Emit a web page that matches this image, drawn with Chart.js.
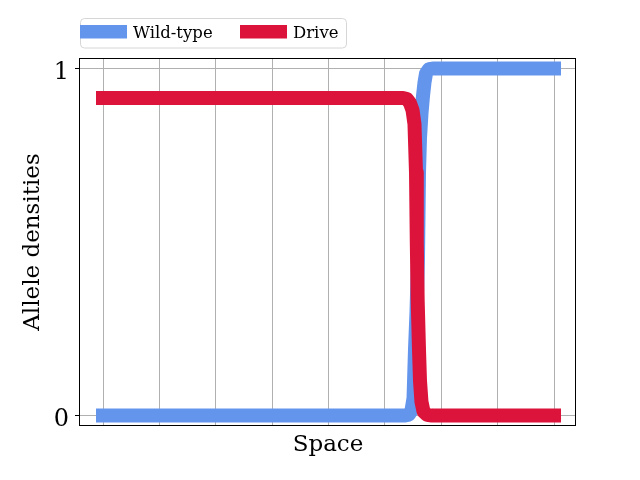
<!DOCTYPE html>
<html>
<head>
<meta charset="utf-8">
<script src="https://cdn.jsdelivr.net/npm/chart.js@4"></script>
<style>
  html, body { margin: 0; padding: 0; background: #fff; }
  #wrap { width: 640px; height: 480px; }
</style>
</head>
<body>
<div id="wrap"><canvas id="c" width="640" height="480"></canvas></div>
<script>
// ---- data ----
const wildX = [0, 53.39, 54.28, 54.72, 55.08, 55.34, 55.61, 55.87, 56.05, 56.23, 56.49, 56.76, 57.03, 57.29, 57.82, 58.71, 80];
const wildY = [0, 0, 0.003, 0.015, 0.05, 0.19, 0.3, 0.45, 0.7, 0.8, 0.87, 0.92, 0.96, 0.985, 0.998, 1, 1];
const driveX = [0, 53.21, 53.92, 54.45, 54.90, 55.25, 55.52, 55.66, 55.82, 56.05, 56.23, 56.49, 56.85, 57.47, 58.36, 80];
const driveY = [0.915, 0.915, 0.912, 0.90, 0.88, 0.84, 0.7, 0.5, 0.33, 0.19, 0.1, 0.04, 0.012, 0.002, 0, 0];
const xTicks = [0, 10, 20, 30, 40, 50, 60, 70, 80];
const yTicks = [0, 1];
const yTickLabels = ['0', '1'];
const seriesNames = ['Wild-type', 'Drive'];
const seriesColors = ['#6495ED', '#DC143C'];

const SERIF = '"DejaVu Serif", "Liberation Serif", serif';

function pts(xs, ys) { return xs.map((x, i) => ({ x: x, y: ys[i] })); }

const framePlugin = {
  id: 'frame',
  afterDraw(chart) {
    const { ctx, chartArea: a } = chart;
    ctx.save();
    ctx.strokeStyle = '#000';
    ctx.lineWidth = 1;
    ctx.strokeRect(Math.round(a.left) - 0.5, Math.round(a.top) + 0.5,
                   Math.round(a.right - a.left), Math.round(a.bottom - a.top) - 1);
    ctx.restore();
  }
};

const legendPlugin = {
  id: 'mplLegend',
  afterDraw(chart) {
    const ctx = chart.ctx;
    const a = chart.chartArea;
    const x0 = a.left + 0.5, y0 = 18.5, w = 266, h = 29.5, r = 4;
    ctx.save();
    ctx.beginPath();
    ctx.moveTo(x0 + r, y0);
    ctx.lineTo(x0 + w - r, y0);
    ctx.arcTo(x0 + w, y0, x0 + w, y0 + r, r);
    ctx.lineTo(x0 + w, y0 + h - r);
    ctx.arcTo(x0 + w, y0 + h, x0 + w - r, y0 + h, r);
    ctx.lineTo(x0 + r, y0 + h);
    ctx.arcTo(x0, y0 + h, x0, y0 + h - r, r);
    ctx.lineTo(x0, y0 + r);
    ctx.arcTo(x0, y0, x0 + r, y0, r);
    ctx.closePath();
    ctx.fillStyle = 'rgba(255,255,255,0.8)';
    ctx.fill();
    ctx.strokeStyle = '#d6d6d6';
    ctx.lineWidth = 1;
    ctx.stroke();
    ctx.font = '16.5px ' + SERIF;
    ctx.textBaseline = 'alphabetic';
    const items = chart.data.datasets;
    const starts = [a.left, a.left + 160];
    items.forEach((ds, i) => {
      const sx = starts[i];
      ctx.fillStyle = ds.borderColor;
      ctx.fillRect(sx, 25, 47, 13.5);
      ctx.fillStyle = '#000';
      ctx.fillText(ds.label, sx + 53, 37.7);
    });
    ctx.restore();
  }
};

new Chart(document.getElementById('c'), {
  type: 'line',
  data: {
    datasets: [
      {
        label: seriesNames[0],
        data: pts(wildX, wildY),
        borderColor: seriesColors[0],
        backgroundColor: seriesColors[0],
        borderWidth: 14,
        borderCapStyle: 'square',
        borderJoinStyle: 'round',
        pointRadius: 0,
        tension: 0,
        fill: false,
        order: 1
      },
      {
        label: seriesNames[1],
        data: pts(driveX, driveY),
        borderColor: seriesColors[1],
        backgroundColor: seriesColors[1],
        borderWidth: 14,
        borderCapStyle: 'square',
        borderJoinStyle: 'round',
        pointRadius: 0,
        tension: 0,
        fill: false,
        order: 0
      }
    ]
  },
  options: {
    responsive: false,
    animation: false,
    devicePixelRatio: 1,
    layout: { padding: { top: 58, right: 64, left: 0, bottom: 0 } },
    plugins: { legend: { display: false }, tooltip: { enabled: false } },
    scales: {
      x: {
        type: 'linear',
        min: -4.08,
        max: 83.9,
        afterBuildTicks(axis) { axis.ticks = xTicks.map(v => ({ value: v })); },
        afterFit(axis) { axis.height = 54; },
        ticks: { display: false },
        grid: { color: '#b0b0b0', lineWidth: 1, drawTicks: false },
        border: { display: false },
        title: { display: true, text: 'Space', color: '#000', font: { family: SERIF, size: 23 }, padding: { top: 0, bottom: 21.5 } }
      },
      y: {
        type: 'linear',
        min: -0.03,
        max: 1.03,
        afterBuildTicks(axis) { axis.ticks = yTicks.map(v => ({ value: v })); },
        afterFit(axis) { axis.width = 80; },
        ticks: {
          color: '#000',
          font: { family: SERIF, size: 24 },
          padding: 6,
          labelOffset: 4,
          callback(v) { const i = yTicks.indexOf(v); return i >= 0 ? yTickLabels[i] : ''; }
        },
        grid: { color: '#b0b0b0', lineWidth: 1, tickColor: '#000', tickLength: 5, drawTicks: true },
        border: { display: false },
        title: { display: true, text: 'Allele densities', color: '#000', font: { family: SERIF, size: 23 }, padding: { top: 19.5, bottom: 0 } }
      }
    }
  },
  plugins: [framePlugin, legendPlugin]
});
</script>
</body>
</html>
